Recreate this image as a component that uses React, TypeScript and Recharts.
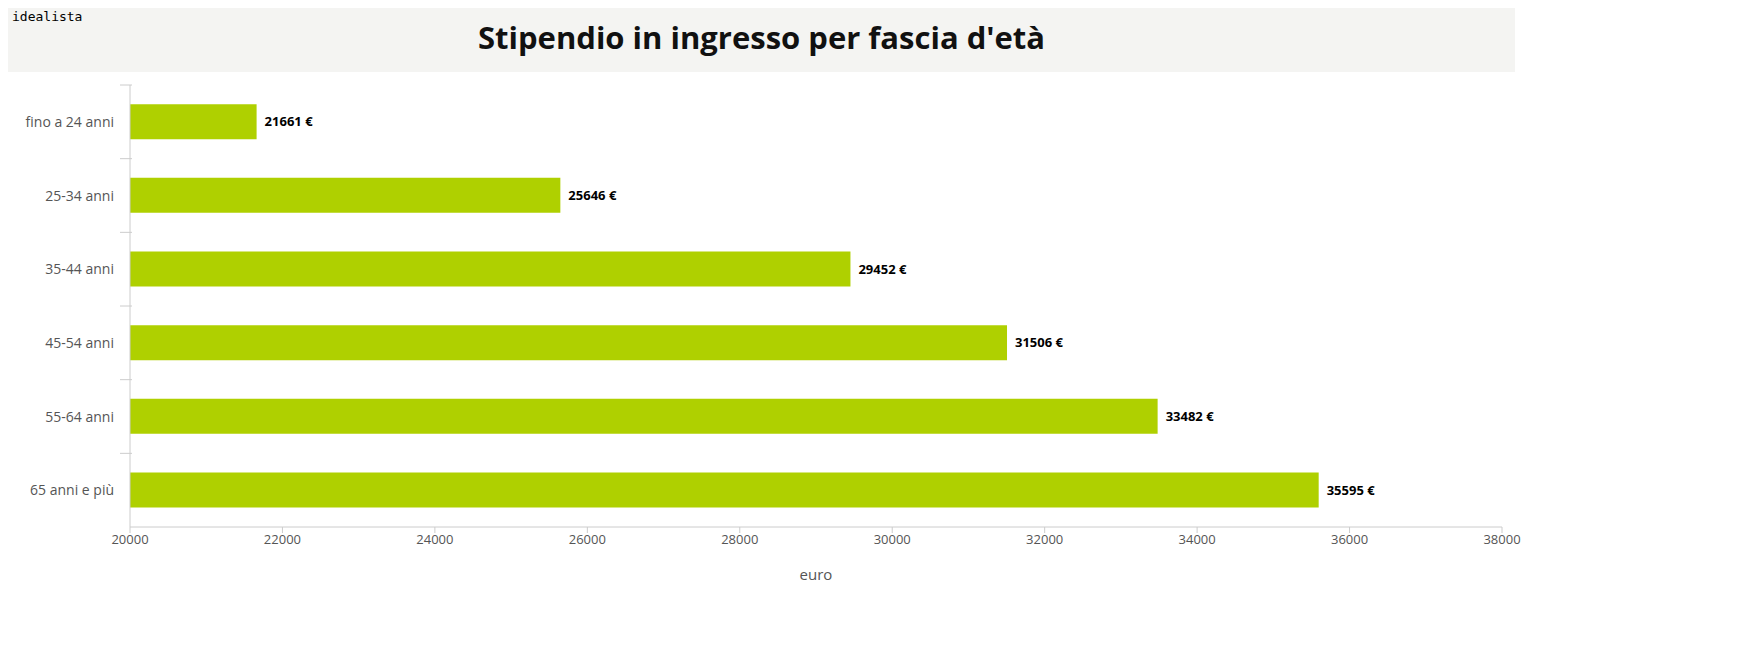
import React from 'react';
import { BarChart, Bar, XAxis, YAxis, LabelList, Label } from 'recharts';

const categories = ['fino a 24 anni', '25-34 anni', '35-44 anni', '45-54 anni', '55-64 anni', '65 anni e più'];
const values = [21661, 25646, 29452, 31506, 33482, 35595];
const xTicks = [20000, 22000, 24000, 26000, 28000, 30000, 32000, 34000, 36000, 38000];

const data = categories.map((c, i) => ({ cat: c, v: values[i] }));
const FONT = '"Open Sans", "Noto Sans", sans-serif';
const BAND = 442 / 6;

const YTick = (props: any) => {
  const { x, y, payload } = props;
  return (
    <g>
      <line x1={x - 2} x2={x + 10} y1={y - BAND / 2} y2={y - BAND / 2} stroke="#ccc" />
      <text x={x - 8} y={y} dy={5} textAnchor="end" fill="#555" fontSize={14} fontFamily={FONT}>{payload.value}</text>
    </g>
  );
};

export default function App() {
  return (
    <div style={{ width: 1520, fontFamily: FONT }}>
      <div style={{ position: 'relative', width: 1507, height: 64, background: '#f4f4f2' }}>
        <div style={{ position: 'absolute', left: 4, top: 1, fontFamily: '"DejaVu Sans Mono", monospace', fontSize: 13, color: '#000' }}>idealista</div>
        <div style={{ position: 'absolute', left: 0, right: 0, top: 8, textAlign: 'center', fontWeight: 700, fontSize: 31, color: '#111' }}>Stipendio in ingresso per fascia d'età</div>
      </div>
      <BarChart width={1520} height={525} data={data} layout="vertical" margin={{ top: 13, right: 26, bottom: 40, left: 0 }} barCategoryGap="26%">
        <XAxis type="number" dataKey="v" domain={[20000, 38000]} ticks={xTicks} allowDataOverflow
          stroke="#ccc" tick={{ fill: '#555', fontSize: 13, fontFamily: FONT }} tickLine={{ stroke: '#ccc' }} tickSize={6}>
          <Label value="euro" position="insideBottom" offset={-23} fill="#555" fontSize={15} fontFamily={FONT} />
        </XAxis>
        <YAxis type="category" dataKey="cat" width={122} stroke="#ccc" tickLine={false} tick={<YTick />} />
        <Bar dataKey="v" fill="#afd000" isAnimationActive={false}>
          <LabelList dataKey="v" position="right" offset={8} formatter={(v: any) => `${v} €`}
            style={{ fill: '#000', fontWeight: 700, fontSize: 13, fontFamily: FONT }} />
        </Bar>
      </BarChart>
    </div>
  );
}
